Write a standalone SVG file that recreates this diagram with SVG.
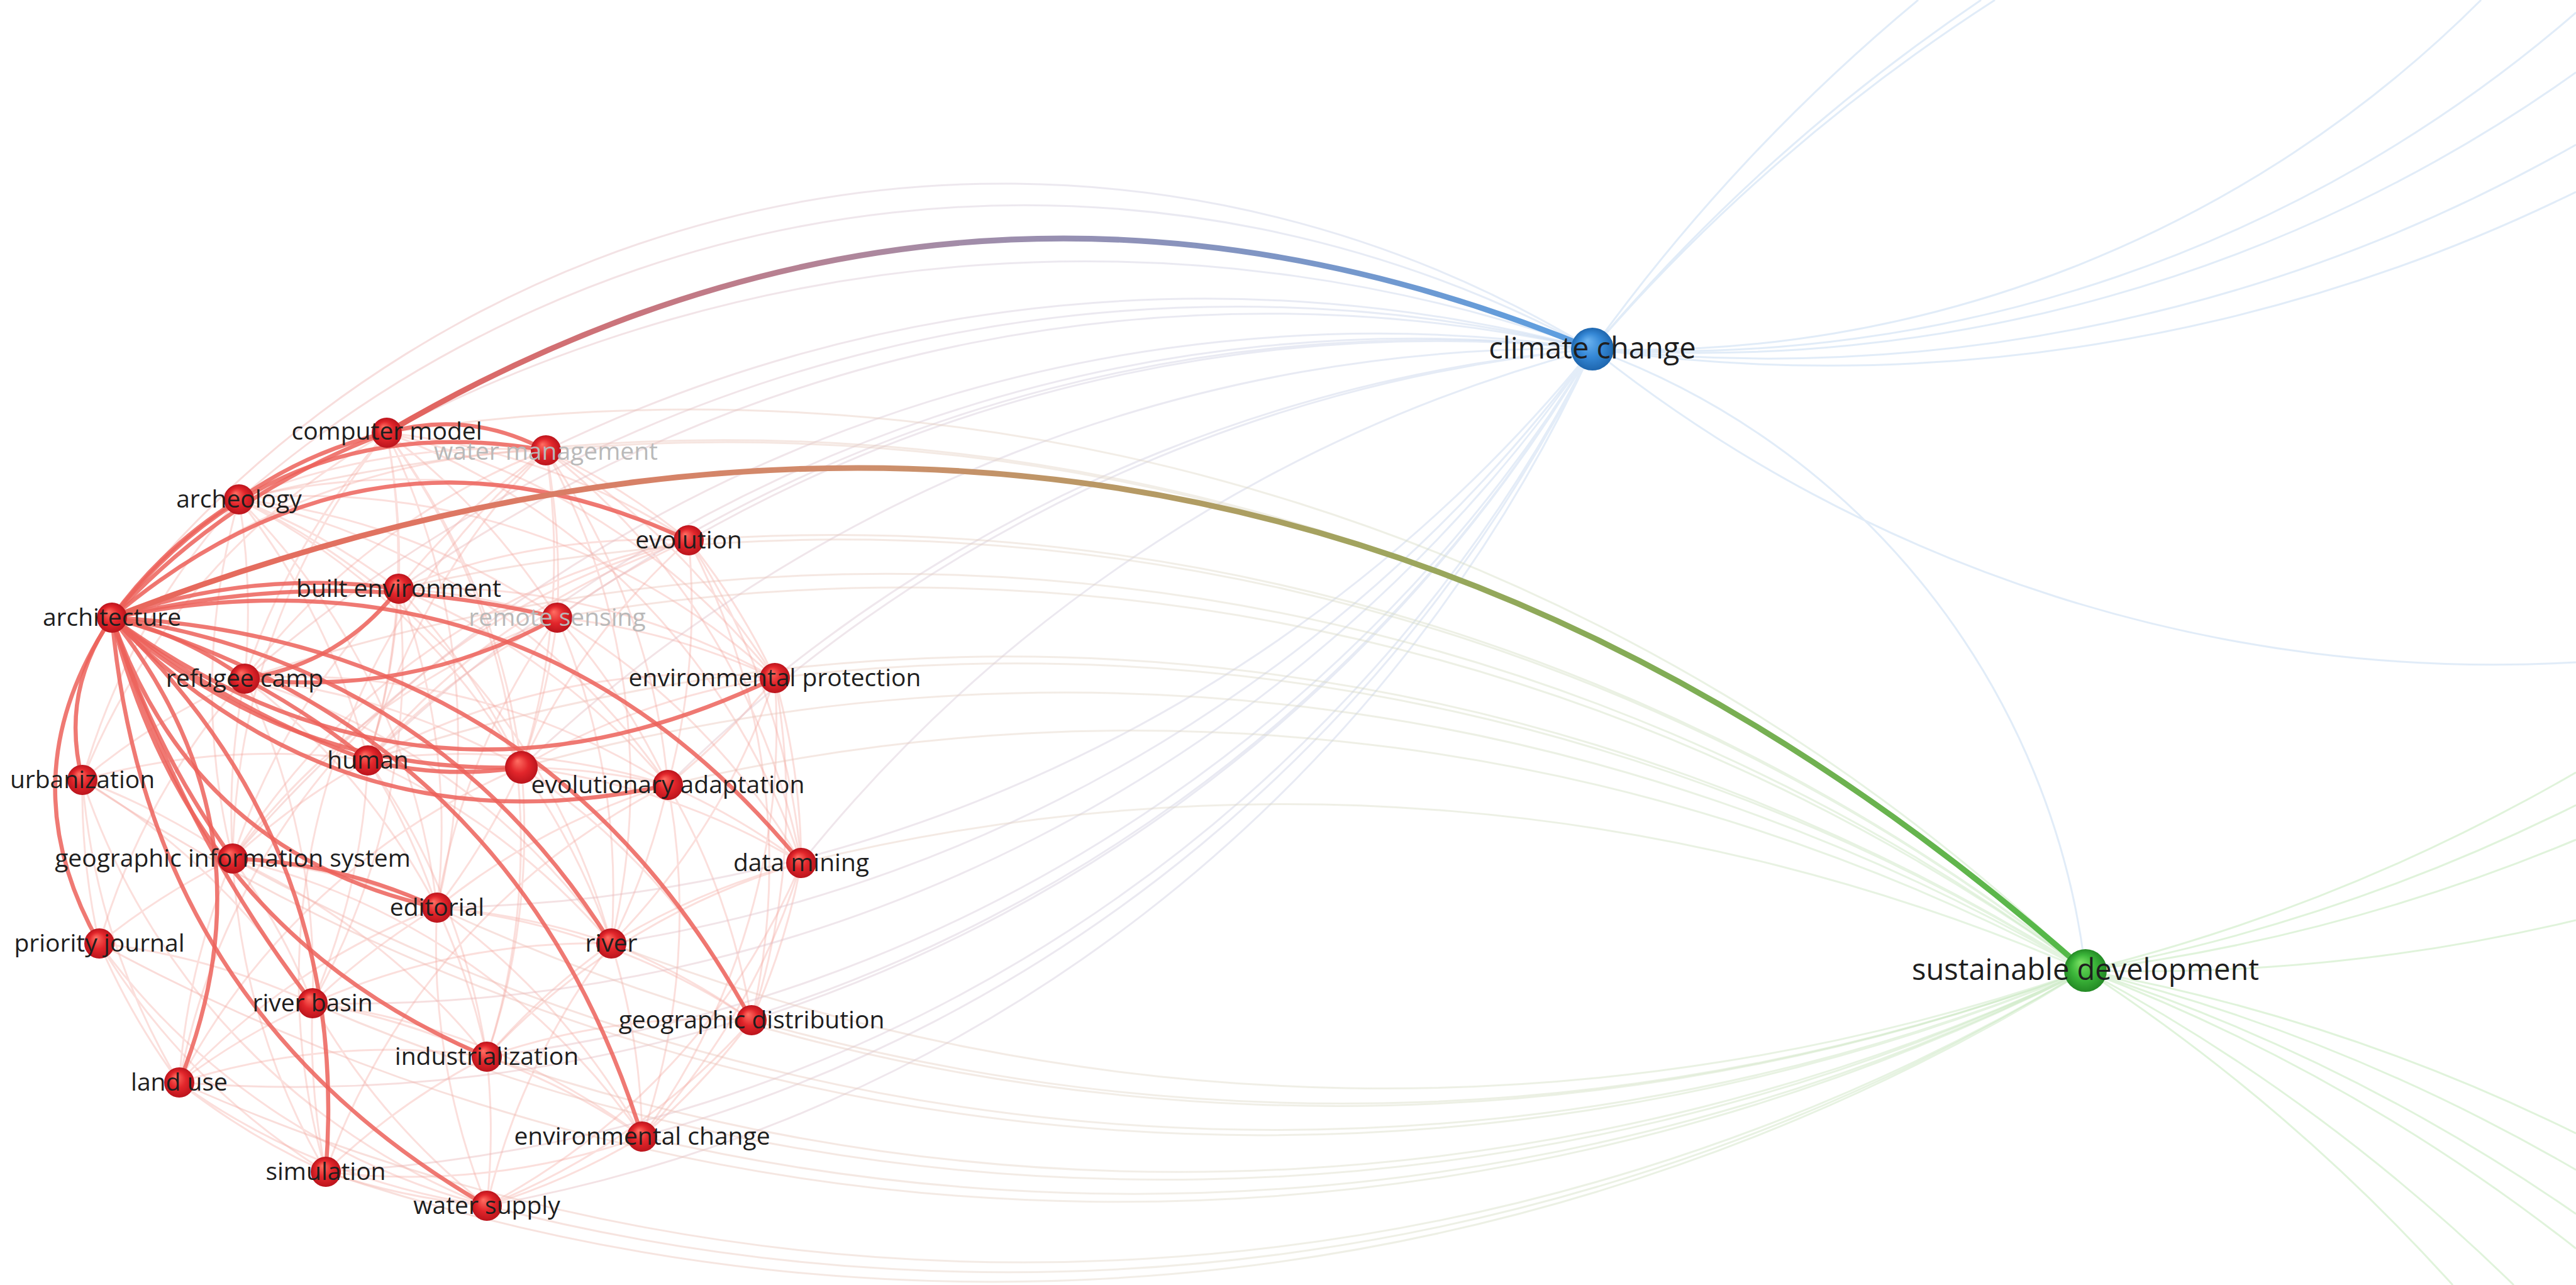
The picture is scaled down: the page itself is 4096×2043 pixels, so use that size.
<svg xmlns="http://www.w3.org/2000/svg" width="4096" height="2043" viewBox="0 0 4096 2043">
<style>
text{font-family:"Open Sans","Noto Sans","DejaVu Sans",sans-serif;fill:#1e1e1e;text-anchor:middle}
.lbl{font-size:39px}
.big{font-size:47px}
.dim{fill:#b9b9b9}
.f{fill:none;stroke:#f2a098;stroke-opacity:.34;stroke-width:3}
.c{fill:none;stroke:url(#gc);stroke-opacity:.42;stroke-width:3}
.s{fill:none;stroke:url(#gs);stroke-opacity:.42;stroke-width:3}
.b{fill:none;stroke:#c4daf2;stroke-opacity:.5;stroke-width:3}
.g{fill:none;stroke:#c6e9bd;stroke-opacity:.55;stroke-width:3}
.t{fill:none;stroke:#ec625a;stroke-opacity:.85;stroke-width:6.5;stroke-linecap:round}
.rn{fill:url(#rg)}
</style>
<defs>
<radialGradient id="rg" cx="50%" cy="50%" r="50%" fx="38%" fy="30%">
<stop offset="0" stop-color="#ff6f63"/><stop offset=".55" stop-color="#e2262b"/><stop offset="1" stop-color="#bb141c"/>
</radialGradient>
<radialGradient id="bg" cx="50%" cy="50%" r="50%" fx="38%" fy="30%">
<stop offset="0" stop-color="#6db4f0"/><stop offset=".55" stop-color="#3588d6"/><stop offset="1" stop-color="#1e66ae"/>
</radialGradient>
<radialGradient id="gg" cx="50%" cy="50%" r="50%" fx="38%" fy="30%">
<stop offset="0" stop-color="#78e063"/><stop offset=".55" stop-color="#3cb63a"/><stop offset="1" stop-color="#248a25"/>
</radialGradient>
<linearGradient id="gc" gradientUnits="userSpaceOnUse" x1="300" y1="0" x2="2532" y2="0">
<stop offset="0" stop-color="#f3aaa3"/><stop offset=".5" stop-color="#d8c6d4"/><stop offset="1" stop-color="#bcd4f0"/>
</linearGradient>
<linearGradient id="gs" gradientUnits="userSpaceOnUse" x1="300" y1="0" x2="3316" y2="0">
<stop offset="0" stop-color="#f3aaa3"/><stop offset=".5" stop-color="#e0d6c6"/><stop offset="1" stop-color="#bde5b5"/>
</linearGradient>
<linearGradient id="g1" gradientUnits="userSpaceOnUse" x1="615" y1="688" x2="2532" y2="555">
<stop offset="0" stop-color="#e6625b"/><stop offset=".45" stop-color="#a78ba4"/><stop offset="1" stop-color="#5a9fe2"/>
</linearGradient>
<linearGradient id="g2" gradientUnits="userSpaceOnUse" x1="178" y1="982" x2="3316" y2="1543">
<stop offset="0" stop-color="#e9655b"/><stop offset=".35" stop-color="#cf8d6c"/><stop offset=".62" stop-color="#9fa55e"/><stop offset="1" stop-color="#52b948"/>
</linearGradient>
</defs>
<rect width="4096" height="2043" fill="#ffffff"/>
<g id="connectors">
<path class="f" d="M380 794A1100 1100 0 0 1 634 936M380 794A1100 1100 0 0 1 886 982M380 794A1100 1100 0 0 1 389 1079M380 794A1100 1100 0 0 1 1095 859M380 794A1100 1100 0 0 1 868 716M380 794A1100 1100 0 0 0 370 1365M380 794A1100 1100 0 0 1 585 1209M380 794A1100 1100 0 0 0 131 1240M380 794A1100 1100 0 0 1 1232 1078M380 794A1100 1100 0 0 1 695 1443M380 794A1100 1100 0 0 1 972 1500M380 794A1100 1100 0 0 1 1062 1248M380 794A1100 1100 0 0 1 829 1220M615 688A1100 1100 0 0 1 634 936M615 688A1100 1100 0 0 1 886 982M615 688A1100 1100 0 0 1 1095 859M615 688A1100 1100 0 0 0 389 1079M615 688A1100 1100 0 0 1 585 1209M615 688A1100 1100 0 0 1 1232 1078M615 688A1100 1100 0 0 0 370 1365M615 688A1100 1100 0 0 1 829 1220M615 688A1100 1100 0 0 1 695 1443M615 688A1100 1100 0 0 1 1274 1372M615 688A1100 1100 0 0 1 774 1680M615 688A1100 1100 0 0 0 131 1240"/>
<path class="f" d="M868 716A1100 1100 0 0 1 1095 859M868 716A1100 1100 0 0 0 634 936M868 716A1100 1100 0 0 1 886 982M868 716A1100 1100 0 0 1 1232 1078M868 716A1100 1100 0 0 0 585 1209M868 716A1100 1100 0 0 1 829 1220M868 716A1100 1100 0 0 1 1062 1248M868 716A1100 1100 0 0 0 389 1079M868 716A1100 1100 0 0 1 1274 1372M868 716A1100 1100 0 0 1 972 1500M868 716A1100 1100 0 0 0 178 982M868 716A1100 1100 0 0 0 518 1863M1095 859A1100 1100 0 0 0 886 982M1095 859A1100 1100 0 0 1 1232 1078M1095 859A1100 1100 0 0 0 829 1220M1095 859A1100 1100 0 0 1 1062 1248M1095 859A1100 1100 0 0 0 634 936M1095 859A1100 1100 0 0 1 1274 1372M1095 859A1100 1100 0 0 0 585 1209M1095 859A1100 1100 0 0 1 1195 1622M1095 859A1100 1100 0 0 0 285 1721M1095 859A1100 1100 0 0 0 370 1365"/>
<path class="f" d="M634 936A1100 1100 0 0 1 886 982M634 936A1100 1100 0 0 1 585 1209M634 936A1100 1100 0 0 1 829 1220M634 936A1100 1100 0 0 1 1232 1078M634 936A1100 1100 0 0 1 1062 1248M634 936A1100 1100 0 0 0 370 1365M634 936A1100 1100 0 0 1 695 1443M634 936A1100 1100 0 0 1 497 1595M886 982A1100 1100 0 0 1 1232 1078M886 982A1100 1100 0 0 1 829 1220M886 982A1100 1100 0 0 1 1062 1248M886 982A1100 1100 0 0 0 585 1209M886 982A1100 1100 0 0 1 1274 1372M886 982A1100 1100 0 0 1 972 1500M886 982A1100 1100 0 0 0 695 1443M886 982A1100 1100 0 0 0 370 1365M389 1079A1100 1100 0 0 0 370 1365M389 1079A1100 1100 0 0 0 131 1240M389 1079A1100 1100 0 0 1 829 1220M389 1079A1100 1100 0 0 1 695 1443M389 1079A1100 1100 0 0 1 497 1595M389 1079A1100 1100 0 0 1 1062 1248M389 1079A1100 1100 0 0 0 158 1500M389 1079A1100 1100 0 0 1 972 1500"/>
<path class="f" d="M1232 1078A1100 1100 0 0 1 1062 1248M1232 1078A1100 1100 0 0 1 1274 1372M1232 1078A1100 1100 0 0 0 829 1220M1232 1078A1100 1100 0 0 1 1195 1622M1232 1078A1100 1100 0 0 1 972 1500M1232 1078A1100 1100 0 0 0 585 1209M1232 1078A1100 1100 0 0 1 1021 1807M585 1209A1100 1100 0 0 0 370 1365M585 1209A1100 1100 0 0 1 695 1443M585 1209A1100 1100 0 0 1 497 1595M585 1209A1100 1100 0 0 1 774 1680M585 1209A1100 1100 0 0 1 972 1500M585 1209A1100 1100 0 0 1 1062 1248M585 1209A1100 1100 0 0 0 131 1240M829 1220A1100 1100 0 0 1 1062 1248M829 1220A1100 1100 0 0 1 695 1443M829 1220A1100 1100 0 0 1 972 1500M829 1220A1100 1100 0 0 1 1274 1372M829 1220A1100 1100 0 0 1 774 1680M829 1220A1100 1100 0 0 1 1195 1622M829 1220A1100 1100 0 0 0 285 1721M1062 1248A1100 1100 0 0 1 1274 1372M1062 1248A1100 1100 0 0 1 972 1500M1062 1248A1100 1100 0 0 1 1195 1622M1062 1248A1100 1100 0 0 1 1021 1807M1062 1248A1100 1100 0 0 0 695 1443M1062 1248A1100 1100 0 0 0 518 1863"/>
<path class="f" d="M131 1240A1100 1100 0 0 1 370 1365M131 1240A1100 1100 0 0 0 158 1500M131 1240A1100 1100 0 0 0 285 1721M131 1240A1100 1100 0 0 1 497 1595M131 1240A1100 1100 0 0 0 774 1917M1274 1372A1100 1100 0 0 1 1195 1622M1274 1372A1100 1100 0 0 0 972 1500M1274 1372A1100 1100 0 0 1 1021 1807M1274 1372A1100 1100 0 0 0 774 1680M1274 1372A1100 1100 0 0 1 774 1917M370 1365A1100 1100 0 0 0 158 1500M370 1365A1100 1100 0 0 1 695 1443M370 1365A1100 1100 0 0 1 497 1595M370 1365A1100 1100 0 0 0 285 1721M370 1365A1100 1100 0 0 1 774 1680M370 1365A1100 1100 0 0 0 518 1863M370 1365A1100 1100 0 0 1 1021 1807M695 1443A1100 1100 0 0 1 972 1500M695 1443A1100 1100 0 0 0 497 1595M695 1443A1100 1100 0 0 1 774 1680M695 1443A1100 1100 0 0 1 1021 1807M695 1443A1100 1100 0 0 0 774 1917M695 1443A1100 1100 0 0 1 1195 1622M695 1443A1100 1100 0 0 0 285 1721M158 1500A1100 1100 0 0 0 285 1721M158 1500A1100 1100 0 0 1 497 1595M158 1500A1100 1100 0 0 0 518 1863M158 1500A1100 1100 0 0 0 774 1917"/>
<path class="f" d="M972 1500A1100 1100 0 0 1 1195 1622M972 1500A1100 1100 0 0 0 774 1680M972 1500A1100 1100 0 0 1 1021 1807M972 1500A1100 1100 0 0 0 774 1917M972 1500A1100 1100 0 0 0 497 1595M497 1595A1100 1100 0 0 0 285 1721M497 1595A1100 1100 0 0 1 774 1680M497 1595A1100 1100 0 0 0 518 1863M497 1595A1100 1100 0 0 0 774 1917M497 1595A1100 1100 0 0 1 1021 1807M1195 1622A1100 1100 0 0 1 1021 1807M1195 1622A1100 1100 0 0 0 774 1680M1195 1622A1100 1100 0 0 1 774 1917M774 1680A1100 1100 0 0 1 1021 1807M774 1680A1100 1100 0 0 0 518 1863M774 1680A1100 1100 0 0 1 774 1917M774 1680A1100 1100 0 0 0 285 1721M285 1721A1100 1100 0 0 0 518 1863M285 1721A1100 1100 0 0 0 774 1917M1021 1807A1100 1100 0 0 1 774 1917M1021 1807A1100 1100 0 0 1 518 1863M518 1863A1100 1100 0 0 0 774 1917"/>
<path class="c" d="M178 982A1800 1800 0 0 1 2532 555M380 794A1900 1900 0 0 1 2532 555M615 688A2400 2400 0 0 1 2532 555M868 716A2400 2400 0 0 1 2532 555M1095 859A2400 2400 0 0 1 2532 555M634 936A2400 2400 0 0 1 2532 555M886 982A2400 2400 0 0 1 2532 555"/>
<path class="c" d="M389 1079A2400 2400 0 0 1 2532 555M1232 1078A2400 2400 0 0 1 2532 555M585 1209A2400 2400 0 0 1 2532 555M829 1220A2400 2400 0 0 1 2532 555M1062 1248A2400 2400 0 0 1 2532 555M1274 1372A2400 2400 0 0 1 2532 555M370 1365A2400 2400 0 0 1 2532 555"/>
<path class="c" d="M695 1443A2400 2400 0 0 0 2532 555M972 1500A2400 2400 0 0 0 2532 555M1195 1622A2400 2400 0 0 0 2532 555M774 1680A2400 2400 0 0 0 2532 555M1021 1807A2400 2400 0 0 0 2532 555M774 1917A2400 2400 0 0 0 2532 555M518 1863A2400 2400 0 0 0 2532 555M285 1721A2400 2400 0 0 0 2532 555M497 1595A2400 2400 0 0 0 2532 555"/>
<path class="s" d="M380 794A3200 3200 0 0 1 3316 1543M615 688A3200 3200 0 0 1 3316 1543M868 716A3200 3200 0 0 1 3316 1543M1095 859A3200 3200 0 0 1 3316 1543M634 936A3200 3200 0 0 1 3316 1543M886 982A3200 3200 0 0 1 3316 1543"/>
<path class="s" d="M389 1079A3200 3200 0 0 1 3316 1543M1232 1078A3200 3200 0 0 1 3316 1543M829 1220A3200 3200 0 0 1 3316 1543M585 1209A3200 3200 0 0 1 3316 1543M1062 1248A3200 3200 0 0 1 3316 1543M1274 1372A3200 3200 0 0 1 3316 1543"/>
<path class="s" d="M1195 1622A3400 3400 0 0 0 3316 1543M972 1500A3400 3400 0 0 0 3316 1543M1021 1807A3400 3400 0 0 0 3316 1543M774 1917A3300 3300 0 0 0 3316 1543M518 1863A3300 3300 0 0 0 3316 1543M774 1680A3400 3400 0 0 0 3316 1543"/>
<path class="s" d="M285 1721A3300 3300 0 0 0 3316 1543M497 1595A3400 3400 0 0 0 3316 1543M695 1443A3400 3400 0 0 0 3316 1543M370 1365A3400 3400 0 0 0 3316 1543M158 1500A3400 3400 0 0 0 3316 1543M131 1240A3400 3400 0 0 0 3316 1543"/>
<path class="b" d="M2532 555A3000 3000 0 0 1 3050 0M2532 555A3000 3000 0 0 1 3150 0M2532 555A3000 3000 0 0 1 3172 0M2532 555A1900 1900 0 0 0 3945 0M2532 555A2200 2200 0 0 0 4096 20M2532 555A2400 2400 0 0 0 4096 115M2532 555A2600 2600 0 0 0 4096 230M2532 555A2700 2700 0 0 0 4096 305M2532 555A2300 2300 0 0 0 4096 1053M2532 555A1200 1200 0 0 1 3316 1543"/>
<path class="g" d="M3316 1543A3000 3000 0 0 0 4096 1228M3316 1543A3000 3000 0 0 0 4096 1280M3316 1543A3000 3000 0 0 0 4096 1335M3316 1543A3000 3000 0 0 0 4096 1463M3316 1543A3000 3000 0 0 1 4096 1802M3316 1543A3000 3000 0 0 1 4096 1860M3316 1543A3000 3000 0 0 1 4096 1930M3316 1543A3000 3000 0 0 1 4096 1985M3316 1543A3000 3000 0 0 1 3997 2043M3316 1543A3000 3000 0 0 1 3900 2043"/>
<path class="t" d="M178 982Q260 868 380 794"/>
<path class="t" d="M178 982Q361 783 615 688"/>
<path class="t" d="M178 982Q443 642 868 716"/>
<path class="t" d="M178 982Q597 627 1095 859"/>
<path class="t" d="M178 982Q400 904 634 936"/>
<path class="t" d="M178 982Q532 897 886 982"/>
<path class="t" d="M178 982Q293 1009 389 1079"/>
<path class="t" d="M178 982Q676 1346 1232 1078"/>
<path class="t" d="M178 982Q546 1362 1062 1248"/>
<path class="t" d="M178 982Q363 1128 585 1209"/>
<path class="t" d="M178 982Q456 1231 829 1220"/>
<path class="t" d="M178 982Q843 848 1274 1372"/>
<path class="t" d="M178 982Q95 1100 131 1240"/>
<path class="t" d="M178 982Q8 1235 158 1500"/>
<path class="t" d="M178 982Q243 1189 370 1365"/>
<path class="t" d="M178 982Q446 1320 285 1721"/>
<path class="t" d="M178 982Q559 1341 518 1863"/>
<path class="t" d="M178 982Q233 1604 774 1917"/>
<path class="t" d="M178 982Q284 1316 497 1595"/>
<path class="t" d="M178 982Q301 1480 774 1680"/>
<path class="t" d="M178 982Q307 1357 695 1443"/>
<path class="t" d="M178 982Q694 1058 972 1500"/>
<path class="t" d="M178 982Q822 1167 1021 1807"/>
<path class="t" d="M178 982Q866 1017 1195 1622"/>
<path class="t" d="M615 688Q747 651 868 716"/>
<path class="t" d="M380 794Q487 718 615 688"/>
<path class="t" d="M389 1079Q653 1110 886 982"/>
<path class="t" d="M634 936Q540 1057 389 1079"/>
<path class="t" d="M389 1079Q493 1134 585 1209"/>
<path class="t" d="M585 1209Q706 1239 829 1220"/>
<path class="t" d="M370 1365Q540 1371 695 1443"/>
<path d="M615 688Q1540 146 2532 555" fill="none" stroke="url(#g1)" stroke-width="9"/>
<path d="M178 982Q1918 308 3316 1543" fill="none" stroke="url(#g2)" stroke-width="9"/>
</g>
<g id="node-architecture"><circle class="rn" cx="178" cy="982" r="24"/><text class="lbl" x="178" y="995">architecture</text></g>
<g id="node-archeology"><circle class="rn" cx="380" cy="794" r="24"/><text class="lbl" x="380" y="807">archeology</text></g>
<g id="node-computer-model"><circle class="rn" cx="615" cy="688" r="24"/><text class="lbl" x="615" y="699">computer model</text></g>
<g id="node-water-management"><circle class="rn" cx="868" cy="716" r="24"/><text class="lbl dim" x="868" y="731">water management</text></g>
<g id="node-evolution"><circle class="rn" cx="1095" cy="859" r="24"/><text class="lbl" x="1095" y="872">evolution</text></g>
<g id="node-built-environment"><circle class="rn" cx="634" cy="936" r="24"/><text class="lbl" x="634" y="949">built environment</text></g>
<g id="node-remote-sensing"><circle class="rn" cx="886" cy="982" r="24"/><text class="lbl dim" x="886" y="995">remote sensing</text></g>
<g id="node-refugee-camp"><circle class="rn" cx="389" cy="1079" r="24"/><text class="lbl" x="389" y="1092">refugee camp</text></g>
<g id="node-environmental-protection"><circle class="rn" cx="1232" cy="1078" r="24"/><text class="lbl" x="1232" y="1091">environmental protection</text></g>
<g id="node-human"><circle class="rn" cx="585" cy="1209" r="24"/><text class="lbl" x="585" y="1222">human</text></g>
<g id="node-unlabeled"><circle class="rn" cx="829" cy="1220" r="26"/></g>
<g id="node-evolutionary-adaptation"><circle class="rn" cx="1062" cy="1248" r="24"/><text class="lbl" x="1062" y="1261">evolutionary adaptation</text></g>
<g id="node-urbanization"><circle class="rn" cx="131" cy="1240" r="24"/><text class="lbl" x="131" y="1253">urbanization</text></g>
<g id="node-data-mining"><circle class="rn" cx="1274" cy="1372" r="24"/><text class="lbl" x="1274" y="1385">data mining</text></g>
<g id="node-geographic-information-system"><circle class="rn" cx="370" cy="1365" r="24"/><text class="lbl" x="370" y="1378">geographic information system</text></g>
<g id="node-editorial"><circle class="rn" cx="695" cy="1443" r="24"/><text class="lbl" x="695" y="1456">editorial</text></g>
<g id="node-priority-journal"><circle class="rn" cx="158" cy="1500" r="24"/><text class="lbl" x="158" y="1513">priority journal</text></g>
<g id="node-river"><circle class="rn" cx="972" cy="1500" r="24"/><text class="lbl" x="972" y="1513">river</text></g>
<g id="node-river-basin"><circle class="rn" cx="497" cy="1595" r="24"/><text class="lbl" x="497" y="1608">river basin</text></g>
<g id="node-geographic-distribution"><circle class="rn" cx="1195" cy="1622" r="24"/><text class="lbl" x="1195" y="1635">geographic distribution</text></g>
<g id="node-industrialization"><circle class="rn" cx="774" cy="1680" r="24"/><text class="lbl" x="774" y="1693">industrialization</text></g>
<g id="node-land-use"><circle class="rn" cx="285" cy="1721" r="24"/><text class="lbl" x="285" y="1734">land use</text></g>
<g id="node-environmental-change"><circle class="rn" cx="1021" cy="1807" r="24"/><text class="lbl" x="1021" y="1820">environmental change</text></g>
<g id="node-simulation"><circle class="rn" cx="518" cy="1863" r="24"/><text class="lbl" x="518" y="1876">simulation</text></g>
<g id="node-water-supply"><circle class="rn" cx="774" cy="1917" r="24"/><text class="lbl" x="774" y="1930">water supply</text></g>
<g id="node-climate-change"><circle cx="2532" cy="555" r="34" fill="url(#bg)"/><text class="big" x="2532" y="570">climate change</text></g>
<g id="node-sustainable-development"><circle cx="3316" cy="1543" r="34" fill="url(#gg)"/><text class="big" x="3316" y="1558">sustainable development</text></g>
</svg>
